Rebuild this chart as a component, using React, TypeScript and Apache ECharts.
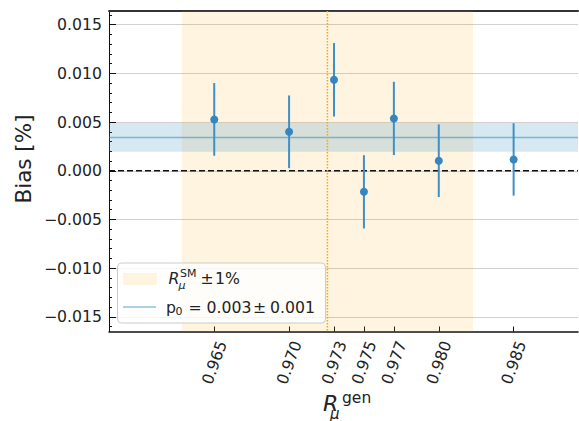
import React, { useEffect, useRef } from "react";
import * as echarts from "echarts";

// ---- data ----
const rGen = [0.965, 0.970, 0.973, 0.975, 0.977, 0.980, 0.985];
const bias = [0.00527, 0.0040, 0.00934, -0.00216, 0.00537, 0.00103, 0.00116];
const biasErr = [0.00373, 0.00373, 0.00377, 0.00376, 0.00376, 0.00373, 0.00372];
const xTickValues = [0.965, 0.970, 0.973, 0.975, 0.977, 0.980, 0.985];
const yTickValues = [-0.015, -0.010, -0.005, 0.0, 0.005, 0.010, 0.015];
const yMinorTickValues = [
  -0.016, -0.014, -0.013, -0.012, -0.011, -0.009, -0.008, -0.007, -0.006,
  -0.004, -0.003, -0.002, -0.001, 0.001, 0.002, 0.003, 0.004, 0.006, 0.007,
  0.008, 0.009, 0.011, 0.012, 0.013, 0.014, 0.016,
];
const rSM = 0.97256;
const rSMFrac = 0.01;
const p0 = 0.00342;
const p0Err = 0.00148;
const zeroLine = 0;
const xRange = [0.95797, 0.9893];
const yRange = [-0.0165, 0.0164];

const FONT = "DejaVu Sans";
const PT_COLOR = "#3586C0";
const BAR_COLOR = "#3F90C6";
const ORANGE_FILL = "rgba(255,165,0,0.12)";
const BLUE_FILL = "rgba(52,138,189,0.2)";
const P0_LINE = "rgba(52,138,189,0.55)";
const TXT = "#222";
const FS = 15.7;
const FS_SMALL = 11;

export default function App() {
  const ref = useRef<HTMLDivElement>(null);
  useEffect(() => {
    if (!ref.current) return;
    const chart = echarts.init(ref.current, undefined, { renderer: "svg" });
    const fmtY = (v: number) =>
      Math.abs(v) < 1e-12 ? "0.000" : (v < 0 ? "\u2212" : "") + Math.abs(v).toFixed(3);

    const hLine = (color: string, width: number, dash: any) => (params: any, api: any) => {
      const cs = params.coordSys;
      const y = api.coord([xRange[0], api.value(0)])[1];
      return {
        type: "line",
        shape: { x1: cs.x, y1: y, x2: cs.x + cs.width, y2: y },
        style: { stroke: color, lineWidth: width, lineDash: dash },
      };
    };
    const vLine = (color: string, width: number, dash: any) => (params: any, api: any) => {
      const cs = params.coordSys;
      const x = api.coord([api.value(0), yRange[0]])[0];
      return {
        type: "line",
        shape: { x1: x, y1: cs.y, x2: x, y2: cs.y + cs.height },
        style: { stroke: color, lineWidth: width, lineDash: dash },
      };
    };

    const txt = (x: number, y: number, text: string, font: string, z = 101) => ({
      type: "text",
      z,
      x,
      y,
      style: { text, font, fill: TXT, align: "left", verticalAlign: "middle" },
    });

    const option: any = {
      animation: false,
      textStyle: { fontFamily: FONT },
      grid: {
        left: 109,
        right: 1,
        top: 11,
        bottom: 89.5,
        containLabel: false,
        outerBoundsMode: "none",
      },
      xAxis: [
        {
          type: "value",
          min: xRange[0],
          max: xRange[1],
          position: "bottom",
          axisLine: { show: true, onZero: false, lineStyle: { color: "#111", width: 1.5 } },
          axisTick: {
            show: true,
            inside: true,
            length: 5,
            customValues: xTickValues,
            lineStyle: { color: "#111", width: 1 },
          },
          axisLabel: {
            show: true,
            customValues: xTickValues,
            rotate: 70,
            align: "center",
            verticalAlign: "middle",
            margin: 31,
            fontSize: FS,
            fontFamily: FONT,
            color: TXT,
            formatter: (v: number) => v.toFixed(3),
          },
          splitLine: { show: false },
        },
        {
          type: "value",
          min: xRange[0],
          max: xRange[1],
          position: "top",
          axisLine: { show: true, onZero: false, lineStyle: { color: "#333", width: 2 } },
          axisTick: { show: false },
          axisLabel: { show: false },
          splitLine: { show: false },
        },
      ],
      yAxis: [
        {
          type: "value",
          min: yRange[0],
          max: yRange[1],
          position: "left",
          axisLine: { show: true, onZero: false, lineStyle: { color: "#111", width: 1 } },
          axisTick: {
            show: true,
            inside: true,
            length: 7,
            customValues: yTickValues,
            lineStyle: { color: "#111", width: 1 },
          },
          axisLabel: {
            show: true,
            customValues: yTickValues,
            margin: 7,
            fontSize: FS,
            fontFamily: FONT,
            color: TXT,
            formatter: fmtY,
          },
          splitLine: { show: true, lineStyle: { color: "#d0d0d0", width: 1 } },
        },
        {
          type: "value",
          min: yRange[0],
          max: yRange[1],
          position: "left",
          axisLine: { show: false, onZero: false },
          axisTick: {
            show: true,
            inside: true,
            length: 3,
            customValues: yMinorTickValues,
            lineStyle: { color: "#111", width: 1 },
          },
          axisLabel: { show: false },
          splitLine: { show: false },
        },
      ],
      series: [
        {
          type: "line",
          data: [],
          z: 1,
          silent: true,
          markArea: {
            silent: true,
            itemStyle: { color: ORANGE_FILL },
            data: [[{ xAxis: rSM * (1 - rSMFrac) }, { xAxis: rSM * (1 + rSMFrac) }]],
          },
        },
        {
          type: "line",
          data: [],
          z: 2,
          silent: true,
          markArea: {
            silent: true,
            itemStyle: { color: BLUE_FILL },
            data: [[{ yAxis: p0 - p0Err }, { yAxis: p0 + p0Err }]],
          },
        },
        {
          type: "custom",
          z: 3,
          silent: true,
          data: [[p0]],
          encode: { y: 0 },
          renderItem: hLine(P0_LINE, 1.5, null),
        },
        {
          type: "custom",
          z: 3,
          silent: true,
          data: [[zeroLine]],
          encode: { y: 0 },
          renderItem: hLine("#111", 1.5, [6, 3]),
        },
        {
          type: "custom",
          z: 3,
          silent: true,
          data: [[rSM]],
          encode: { x: 0 },
          renderItem: vLine("#FFA500", 1.5, [1.5, 1.5]),
        },
        {
          type: "custom",
          z: 4,
          silent: true,
          data: rGen.map((x, i) => [x, bias[i] - biasErr[i], bias[i] + biasErr[i]]),
          encode: { x: 0, y: [1, 2] },
          renderItem: (params: any, api: any) => {
            const x = api.value(0);
            const p1 = api.coord([x, api.value(1)]);
            const p2 = api.coord([x, api.value(2)]);
            return {
              type: "line",
              shape: { x1: p1[0], y1: p1[1], x2: p2[0], y2: p2[1] },
              style: { stroke: BAR_COLOR, lineWidth: 2 },
            };
          },
        },
        {
          type: "scatter",
          z: 5,
          symbol: "circle",
          symbolSize: 8,
          itemStyle: { color: PT_COLOR, opacity: 1 },
          data: rGen.map((x, i) => [x, bias[i]]),
        },
      ],
      graphic: [
        // y-axis title
        {
          type: "text",
          x: 23,
          y: 159,
          rotation: Math.PI / 2,
          style: {
            text: "Bias [%]",
            font: `21.5px '${FONT}'`,
            fill: TXT,
            align: "center",
            verticalAlign: "middle",
          },
        },
        // x-axis title R_mu^gen
        txt(323, 403.3, "R", `italic 22px '${FONT}'`, 10),
        txt(342, 397.5, "gen", `15.5px '${FONT}'`, 10),
        txt(330, 413.5, "\u03bc", `italic 15px '${FONT}'`, 10),
        // legend
        {
          type: "rect",
          z: 100,
          shape: { x: 117.5, y: 263, width: 208, height: 60, r: 4 },
          style: { fill: "rgba(255,255,255,0.8)", stroke: "#cccccc", lineWidth: 1 },
        },
        {
          type: "rect",
          z: 101,
          shape: { x: 123, y: 273, width: 34, height: 12 },
          style: { fill: ORANGE_FILL },
        },
        txt(168.5, 278.8, "R", `italic ${FS}px '${FONT}'`),
        txt(180, 273.3, "SM", `${FS_SMALL}px '${FONT}'`),
        txt(178.5, 285.8, "\u03bc", `italic ${FS_SMALL}px '${FONT}'`),
        txt(200.5, 278.8, "\u00b1", `${FS}px '${FONT}'`),
        txt(215, 278.8, "1%", `${FS}px '${FONT}'`),
        {
          type: "line",
          z: 101,
          shape: { x1: 123, y1: 307, x2: 156, y2: 307 },
          style: { stroke: P0_LINE, lineWidth: 1.5 },
        },
        txt(166, 307.5, "p", `${FS}px '${FONT}'`),
        txt(175.5, 311, "0", `${FS_SMALL}px '${FONT}'`),
        txt(188.5, 307.5, "=", `${FS}px '${FONT}'`),
        txt(206.5, 307.5, "0.003", `${FS}px '${FONT}'`),
        txt(253, 307.5, "\u00b1", `${FS}px '${FONT}'`),
        txt(270, 307.5, "0.001", `${FS}px '${FONT}'`),
      ],
    };
    chart.setOption(option);
    return () => chart.dispose();
  }, []);
  return <div ref={ref} style={{ width: 579, height: 421, position: "absolute", left: 0, top: 0 }} />;
}
